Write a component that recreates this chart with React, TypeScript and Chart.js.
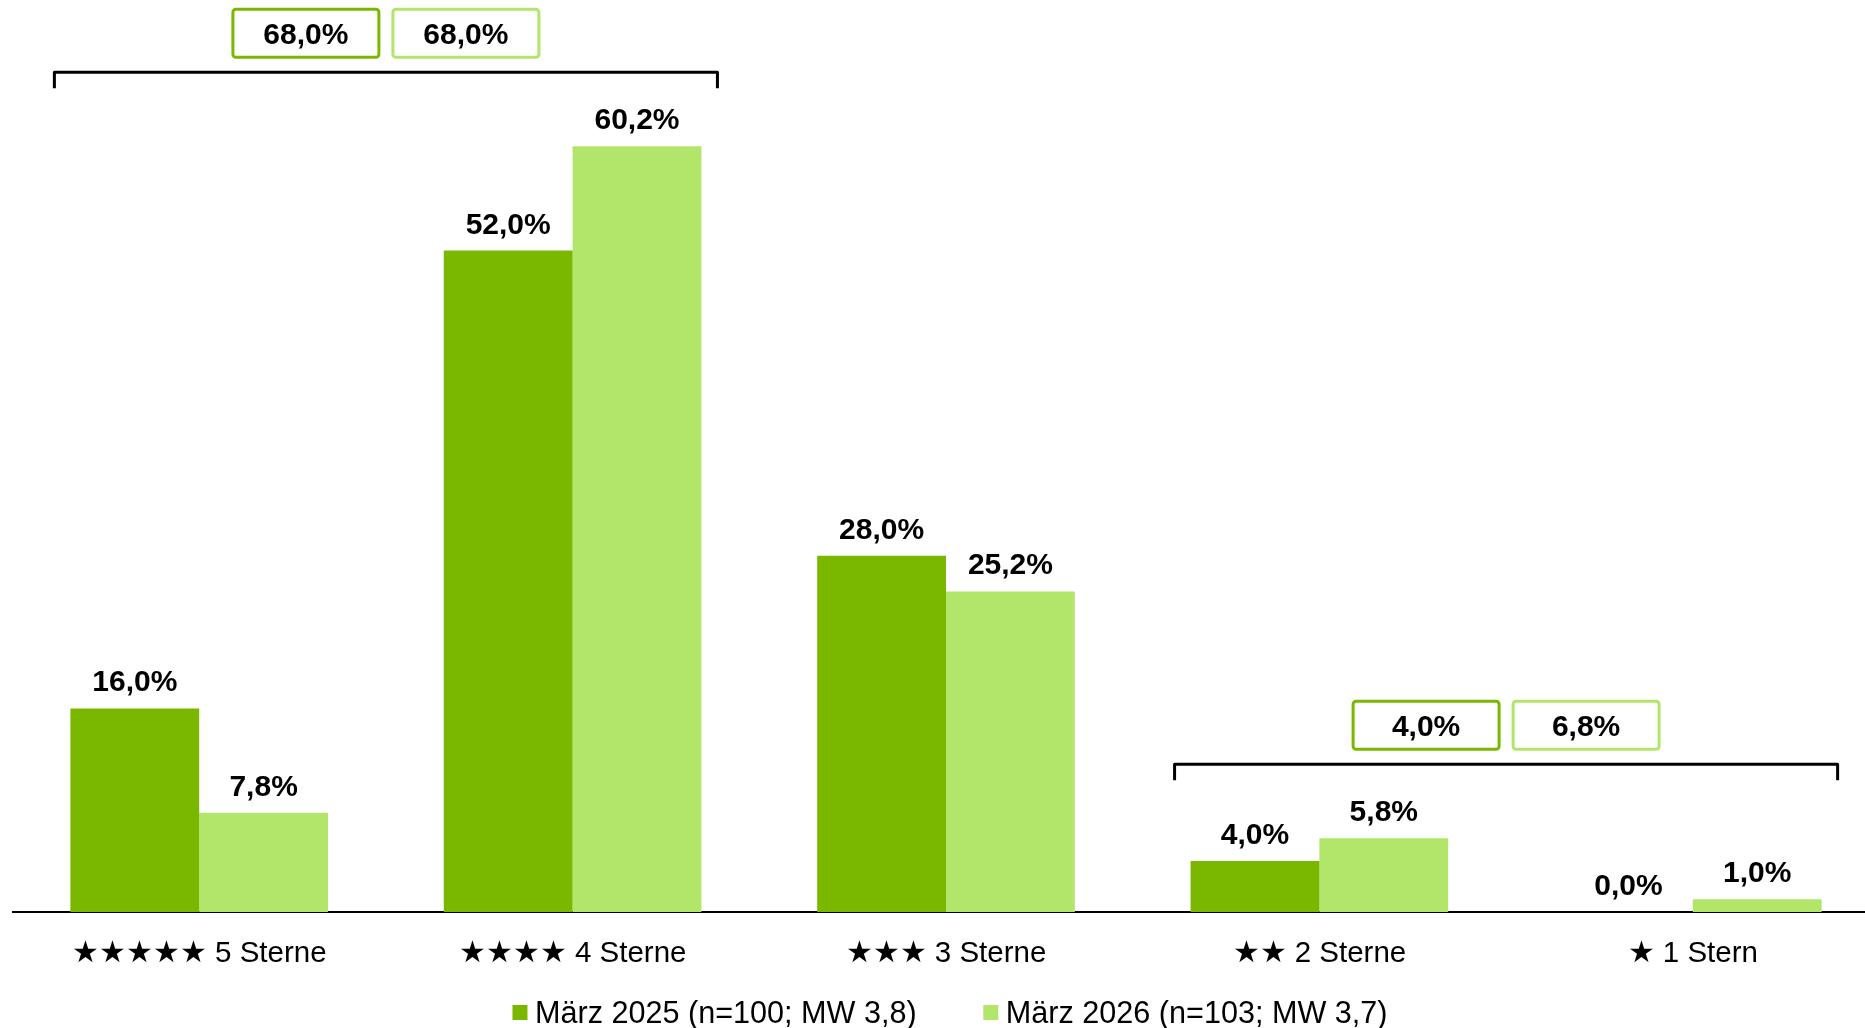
import React, { useEffect, useRef } from "react";
import { Chart, registerables } from "chart.js";

Chart.register(...registerables);

// ---- data ----
const categories = [
  "★★★★★ 5 Sterne",
  "★★★★ 4 Sterne",
  "★★★ 3 Sterne",
  "★★ 2 Sterne",
  "★ 1 Stern",
];
const seriesLabels = ["März 2025 (n=100; MW 3,8)", "März 2026 (n=103; MW 3,7)"];
const values2025 = [16.0, 52.0, 28.0, 4.0, 0.0];
const values2026 = [7.8, 60.2, 25.2, 5.8, 1.0];
// summary brackets (top-2 / bottom-2 boxes)
const summaryFrom = [0, 3];
const summaryTo = [1, 4];
const summary2025 = [68.0, 4.0];
const summary2026 = [68.0, 6.8];
const seriesColors = ["#7AB800", "#B2E66B"];

const FONT = "'Liberation Sans', Arial, Helvetica, sans-serif";

const fmt = (v: number) => v.toFixed(1).replace(".", ",") + "%";

const dataLabelPlugin = {
  id: "dataLabels",
  afterDatasetsDraw(chart: any) {
    const ctx = chart.ctx;
    ctx.save();
    ctx.font = `bold 30px ${FONT}`;
    ctx.fillStyle = "#000";
    ctx.textAlign = "center";
    ctx.textBaseline = "alphabetic";
    chart.data.datasets.forEach((ds: any, di: number) => {
      const meta = chart.getDatasetMeta(di);
      meta.data.forEach((el: any, i: number) => {
        ctx.fillText(fmt(ds.data[i]), el.x, el.y - 17);
      });
    });
    ctx.restore();
  },
};

const bracketPlugin = {
  id: "brackets",
  afterDraw(chart: any) {
    const ctx = chart.ctx;
    const m0 = chart.getDatasetMeta(0);
    const m1 = chart.getDatasetMeta(1);
    const yScale = chart.scales.y;
    ctx.save();
    summaryFrom.forEach((from, gi) => {
      const to = summaryTo[gi];
      const e0 = m0.data[from];
      const e1 = m1.data[to];
      const left = e0.x - e0.width / 2 - 16;
      const right = e1.x + e1.width / 2 + 16;
      let maxV = 0;
      for (let i = from; i <= to; i++) {
        maxV = Math.max(maxV, values2025[i], values2026[i]);
      }
      const lineY = yScale.getPixelForValue(maxV) - 74;
      // bracket
      ctx.strokeStyle = "#000";
      ctx.lineWidth = 3;
      ctx.lineJoin = "round";
      ctx.lineCap = "butt";
      ctx.beginPath();
      ctx.moveTo(left, lineY + 16);
      ctx.lineTo(left, lineY);
      ctx.lineTo(right, lineY);
      ctx.lineTo(right, lineY + 16);
      ctx.stroke();
      // boxes
      const cx = (left + right) / 2;
      const bw = 146;
      const bh = 48;
      const gap = 14;
      const cy = lineY - 39;
      const boxes = [
        { x: cx - gap / 2 - bw, v: summary2025[gi], c: seriesColors[0] },
        { x: cx + gap / 2, v: summary2026[gi], c: seriesColors[1] },
      ];
      boxes.forEach((b) => {
        ctx.lineWidth = 3;
        ctx.strokeStyle = b.c;
        ctx.fillStyle = "#fff";
        ctx.beginPath();
        (ctx as any).roundRect(b.x, cy - bh / 2, bw, bh, 3);
        ctx.fill();
        ctx.stroke();
        ctx.fillStyle = "#000";
        ctx.font = `bold 30px ${FONT}`;
        ctx.textAlign = "center";
        ctx.textBaseline = "alphabetic";
        ctx.fillText(fmt(b.v), b.x + bw / 2, cy + 10.8);
      });
    });
    ctx.restore();
  },
};

const legendPlugin = {
  id: "customLegend",
  afterDraw(chart: any) {
    const ctx = chart.ctx;
    const area = chart.chartArea;
    ctx.save();
    ctx.font = `30.6px ${FONT}`;
    const box = 15;
    const boxGap = 7.5;
    const itemGap = 66.6;
    const widths = seriesLabels.map((t) => ctx.measureText(t).width);
    const total =
      widths.reduce((a, w) => a + box + boxGap + w, 0) + itemGap * (seriesLabels.length - 1);
    let x = (area.left + area.right) / 2 + 4 - total / 2;
    const baseline = 1023;
    seriesLabels.forEach((t, i) => {
      ctx.fillStyle = seriesColors[i];
      ctx.fillRect(x, baseline - 18, box, box);
      ctx.fillStyle = "#000";
      ctx.textAlign = "left";
      ctx.textBaseline = "alphabetic";
      ctx.fillText(t, x + box + boxGap, baseline);
      x += box + boxGap + widths[i] + itemGap;
    });
    ctx.restore();
  },
};

export default function App() {
  const canvasRef = useRef<HTMLCanvasElement | null>(null);

  useEffect(() => {
    const canvas = canvasRef.current;
    if (!canvas) return;
    Chart.defaults.font.family = FONT;
    const chart = new Chart(canvas, {
      type: "bar",
      data: {
        labels: categories,
        datasets: [
          {
            label: seriesLabels[0],
            data: values2025,
            backgroundColor: seriesColors[0],
            borderWidth: 0,
            categoryPercentage: 0.69,
            barPercentage: 1.0,
          },
          {
            label: seriesLabels[1],
            data: values2026,
            backgroundColor: seriesColors[1],
            borderWidth: 0,
            categoryPercentage: 0.69,
            barPercentage: 1.0,
          },
        ],
      },
      options: {
        animation: false,
        responsive: false,
        devicePixelRatio: 1,
        layout: { padding: { left: 12.5, right: 0.5, top: 0, bottom: 0 } },
        plugins: {
          legend: { display: false },
          tooltip: { enabled: false },
        },
        scales: {
          x: {
            grid: { display: false, drawTicks: false },
            border: { display: true, color: "#000", width: 2 },
            ticks: {
              color: "#000",
              font: { size: 29.5, family: FONT },
              padding: 24,
              maxRotation: 0,
              autoSkip: false,
            },
            afterFit: (s: any) => {
              s.height = 116;
            },
          },
          y: { display: false, min: 0, max: 71.7 },
        },
      },
      plugins: [dataLabelPlugin, bracketPlugin, legendPlugin],
    });
    return () => chart.destroy();
  }, []);

  return (
    <div
      style={{
        position: "fixed",
        left: 0,
        top: 0,
        width: 1865,
        height: 1028,
        overflow: "hidden",
        background: "#fff",
      }}
    >
      <canvas
        ref={canvasRef}
        width={1880}
        height={1028}
        style={{ display: "block", width: 1880, height: 1028 }}
      />
    </div>
  );
}
